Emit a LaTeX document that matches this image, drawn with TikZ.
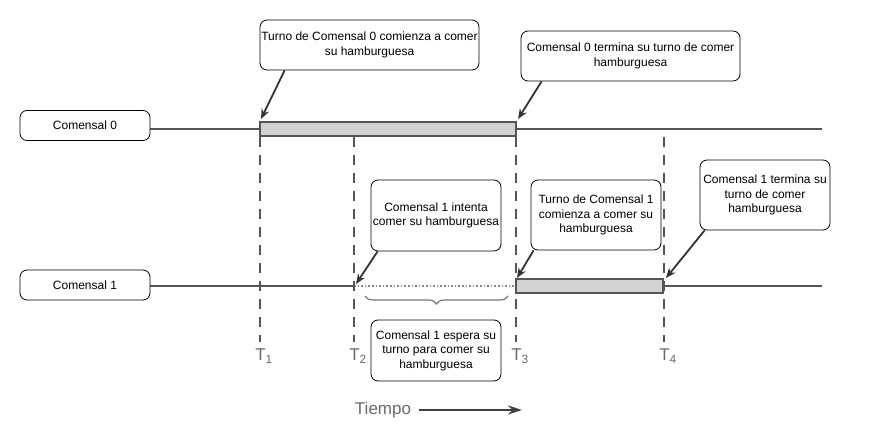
\documentclass[tikz,border=0pt]{standalone}
\usepackage{fontspec}
\setmainfont{Liberation Sans}
\usetikzlibrary{arrows.meta,calc,decorations.pathreplacing}
\definecolor{tl}{HTML}{555555}
\definecolor{barfill}{HTML}{D2D2D2}
\definecolor{lab}{HTML}{6A6A6A}
\tikzset{
  note/.style={draw=black,line width=0.8pt,rounded corners=7pt,fill=white,align=center,
    font=\fontsize{12}{14.5}\selectfont,inner sep=1pt},
  tline/.style={draw=tl,line width=2pt},
  bar/.style={draw=tl,line width=1.8pt,fill=barfill},
  vdash/.style={draw=tl,line width=1.8pt,dash pattern=on 10pt off 8pt},
  arr/.style={draw=black!80,line width=1.8pt,-{Stealth[length=10pt,width=8pt]}},
  tlab/.style={text=lab,font=\fontsize{17}{20}\selectfont},
}
\begin{document}
\begin{tikzpicture}[x=1pt,y=-1pt]
\useasboundingbox (0,0) rectangle (886,430);
% timelines
\coordinate (c0s) at (150,129);
\coordinate (c0a) at (260,129);
\coordinate (c0b) at (516,129);
\coordinate (c0e) at (822,129);
\coordinate (c1s) at (150,286);
\coordinate (c1w) at (354,286);
\coordinate (c1a) at (516,286);
\coordinate (c1b) at (663,286);
\coordinate (c1e) at (822,286);
\draw[tline] (c0s) -- (c0a);
\draw[tline] (c0b) -- (c0e);
\draw[bar] (260,122) rectangle (516,136);
\draw[tline] (c1s) -- (c1w);
\draw[draw=tl!70,line width=1.6pt,dotted] (c1w) -- (c1a);
\draw[tline] (c1b) -- (c1e);
\draw[bar] (516,279) rectangle (663,293);
% dashed verticals
\coordinate (v1t) at (260,137); \coordinate (v1b) at (260,342);
\coordinate (v2t) at (354,137); \coordinate (v2b) at (354,342);
\coordinate (v3t) at (516,137); \coordinate (v3b) at (516,342);
\coordinate (v4t) at (664,137); \coordinate (v4b) at (664,342);
\draw[vdash] (v1t) -- (v1b);
\draw[vdash] (v2t) -- (v2b);
\draw[vdash] (v3t) -- (v3b);
\draw[vdash] (v4t) -- (v4b);
% T labels
\node[tlab] (T1) at (264,356) {T\textsubscript{1}};
\node[tlab] (T2) at (358,356) {T\textsubscript{2}};
\node[tlab] (T3) at (520,356) {T\textsubscript{3}};
\node[tlab] (T4) at (668,356) {T\textsubscript{4}};
% labels boxes
\node[note,minimum width=130pt,minimum height=30pt] (l0) at (85,125.5) {Comensal 0};
\node[note,minimum width=130pt,minimum height=30pt] (l1) at (85,285) {Comensal 1};
% notes
\node[note,minimum width=219pt,minimum height=50pt] (n1) at (369.5,45) {Turno de Comensal 0 comienza a comer\\su hamburguesa};
\node[note,minimum width=219pt,minimum height=50pt] (n2) at (630.5,56) {Comensal 0 termina su turno de comer\\hamburguesa};
\node[note,minimum width=130pt,minimum height=71pt] (n3) at (436,215.5) {Comensal 1 intenta\\comer su hamburguesa};
\node[note,minimum width=130pt,minimum height=70pt] (n4) at (596,215) {Turno de Comensal 1\\comienza a comer su\\hamburguesa};
\node[note,minimum width=130pt,minimum height=70pt] (n5) at (765,195) {Comensal 1 termina su\\turno de comer\\hamburguesa};
\node[note,minimum width=130pt,minimum height=61pt] (n6) at (436,350.5) {Comensal 1 espera su\\turno para comer su\\hamburguesa};
% arrows
\coordinate (p1) at (261,119);
\coordinate (p2) at (518,119);
\coordinate (p3) at (356,284);
\coordinate (p4) at (517,278);
\coordinate (p5) at (666,278);
\draw[arr] ($(n1.south west)+(25,0)$) -- (p1);
\draw[arr] ($(n2.south west)+(21,0)$) -- (p2);
\draw[arr] ($(n3.south west)+(7,0)$) -- (p3);
\draw[arr] ($(n4.south west)+(3,0)$) -- (p4);
\draw[arr] ($(n5.south west)+(5,0)$) -- (p5);
% brace
\coordinate (bl) at (365,296);
\coordinate (br) at (508,296);
\draw[draw=tl!80,line width=1.2pt,decorate,decoration={brace,mirror,amplitude=8pt}] (bl) -- (br);
% time arrow
\node[tlab] (tiempo) at (383,410) {Tiempo};
\coordinate (tend) at (522,410);
\draw[draw=black!75,line width=1.8pt,-{Stealth[length=14pt,width=9pt]}] (tiempo.east) ++(4,0) -- (tend);
\end{tikzpicture}
\end{document}
